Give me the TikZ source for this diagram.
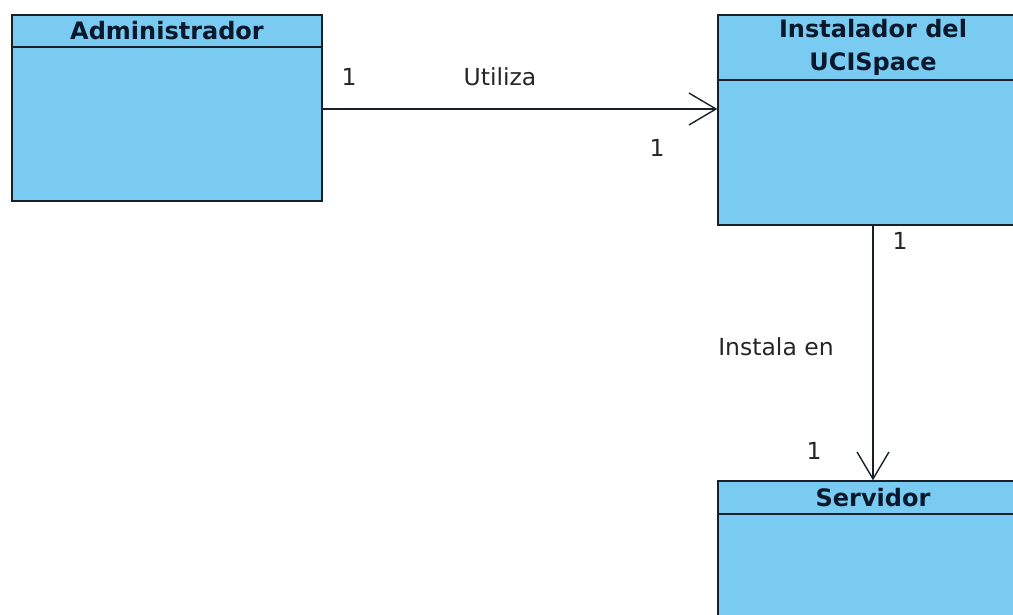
\documentclass[tikz,border=0pt]{standalone}
\usepackage{fontspec}
\setmainfont{DejaVu Sans}
\usetikzlibrary{arrows.meta}

\begin{document}
\begin{tikzpicture}[x=1pt, y=-1pt, line width=1.4pt, font=\fontsize{23.5}{32}\selectfont]

  \definecolor{classFill}{RGB}{121,203,242}
  \definecolor{classLine}{RGB}{24,32,44}
  \definecolor{className}{RGB}{10,24,44}

  \tikzset{
    classhead/.style={draw=classLine, fill=classFill, minimum width=310pt,
      inner sep=0pt, align=center, text=className, font=\fontsize{24}{33}\selectfont\bfseries},
    classbody/.style={draw=classLine, fill=classFill, minimum width=310pt, inner sep=0pt},
    assoc/.style={classLine, -{Straight Barb[length=27pt, width=32pt, line width=1.4pt]}},
    mult/.style={inner sep=0pt, text=black!85}
  }

  % page
  \useasboundingbox (0,0) rectangle (1013,615);
  \clip (0,0) rectangle (1013,615);

  % classes: head + body
  \node[classhead, minimum height=32pt]  (adminHead) at (167,31)    {Administrador};
  \node[classbody, minimum height=154pt] (admin)     at (167,124)   {};

  \node[classhead, minimum height=65pt]  (instHead)  at (873,47.5)  {Instalador del\\UCISpace};
  \node[classbody, minimum height=145pt] (inst)      at (873,152.5) {};

  \node[classhead, minimum height=33pt]  (servHead)  at (873,497.5) {Servidor};
  \node[classbody, minimum height=160pt] (serv)      at (873,594)   {};

  % associations
  \draw[assoc] ([yshift=15pt]admin.east) -- ([yshift=15pt]admin.east -| inst.west);
  \draw[assoc] (inst.south) -- (servHead.north);

  % labels and multiplicities
  \node[mult] (multAdmin) at (349,77)  {1};
  \node[mult] (useLbl)    at (500,77)  {Utiliza};
  \node[mult] (multInst)  at (657,148) {1};
  \node[mult] (multInstB) at (900,241) {1};
  \node[mult] (installLbl) at (776,347) {Instala en};
  \node[mult] (multServ)  at (814,451) {1};

\end{tikzpicture}
\end{document}
